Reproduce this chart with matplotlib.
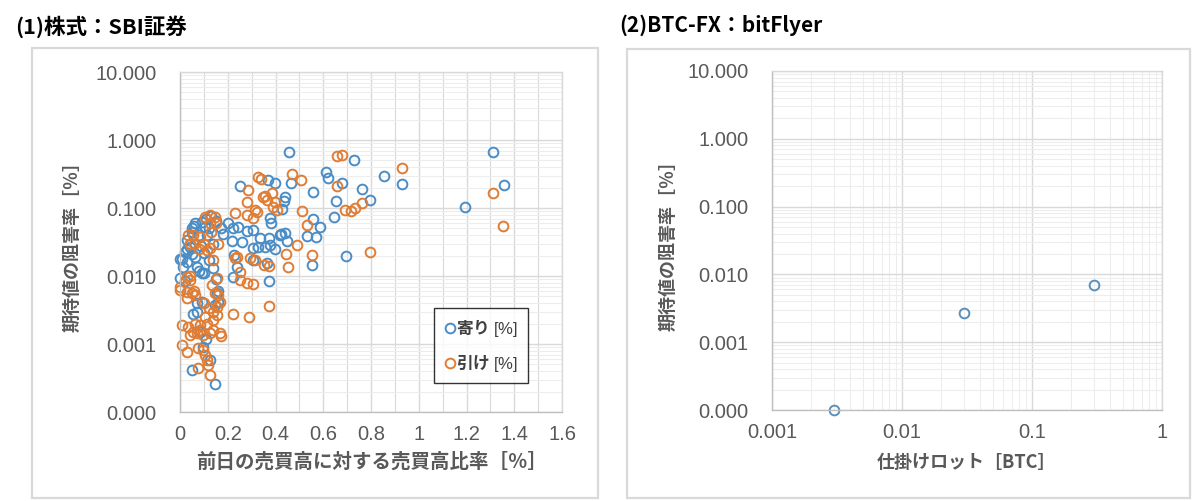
import numpy as np
import matplotlib
matplotlib.use("Agg")
import matplotlib.pyplot as plt
from matplotlib.patches import Rectangle
from matplotlib.ticker import FixedLocator, FuncFormatter, NullFormatter

plt.rcParams['font.family'] = ['Liberation Sans', 'Noto Sans CJK JP', 'DejaVu Sans']
plt.rcParams['mathtext.fontset'] = 'custom'
plt.rcParams['mathtext.rm'] = 'Liberation Sans'
JP = ['Noto Sans CJK JP', 'DejaVu Sans']

# (1) stocks: ratio to previous day volume [%] vs hindrance rate [%]
open_x = [0.456, 1.31, 0.727, 0.853, 0.611, 0.619, 0.677, 0.762, 0.557, 0.797,
          0.652, 0.644, 0.251, 0.367, 0.398, 0.465, 0.44, 0.437, 0.427, 0.558,
          0.586, 0.533, 0.570, 0.423, 0.44, 0.447, 0.373, 0.335, 0.307, 0.325,
          0.356, 0.398, 0.223, 0.244, 0.279, 0.307, 0.216, 0.381, 0.695, 0.551,
          0.373, 0.181, 0.226, 0.377, 0.928, 1.357, 1.194, 0.063, 0.091, 0.105,
          0.049, 0.258, 0.377, 0.419, 0.028, 0.042, 0.021, 0.0, 0.014, 0.07,
          0.091, 0.063, 0.307, 0.363, 0.237, 0.223, 0.112, 0.14, 0.049, 0.147,
          0.126, 0.098, 0.056, 0.07, 0.091, 0.154, 0.161, 0.147, 0.0, 0.02,
          0.01, 0.03, 0.04, 0.06, 0.08, 0.09, 0.10, 0.12, 0.10, 0.14,
          0.15, 0.16, 0.03, 0.05, 0.08, 0.12, 0.15, 0.17, 0.20, 0.13,
          0.05, 0.11, 0.07, 0.11, 0.085]
open_y = [0.66, 0.66, 0.51, 0.30, 0.34, 0.28, 0.235, 0.188, 0.17, 0.131,
          0.127, 0.073, 0.21, 0.26, 0.235, 0.23, 0.147, 0.127, 0.097, 0.068,
          0.053, 0.039, 0.038, 0.0415, 0.0425, 0.033, 0.036, 0.036, 0.0255, 0.0264,
          0.027, 0.0247, 0.051, 0.053, 0.046, 0.0475, 0.0327, 0.0596, 0.0199, 0.0145,
          0.0084, 0.0415, 0.0204, 0.0705, 0.225, 0.218, 0.102, 0.0596, 0.063, 0.053,
          0.050, 0.032, 0.0286, 0.040, 0.034, 0.027, 0.0228, 0.018, 0.0137, 0.0137,
          0.011, 0.019, 0.0172, 0.0153, 0.0137, 0.0098, 0.040, 0.030, 0.00041, 0.00026,
          0.00058, 0.00091, 0.0028, 0.0040, 0.0042, 0.0056, 0.0042, 0.0038, 0.0095, 0.0085,
          0.018, 0.025, 0.030, 0.055, 0.040, 0.028, 0.022, 0.017, 0.011, 0.013,
          0.009, 0.006, 0.016, 0.021, 0.012, 0.050, 0.065, 0.050, 0.060, 0.075,
          0.045, 0.070, 0.003, 0.0012, 0.0015]

close_x = [0.656, 0.678, 0.328, 0.339, 0.468, 0.507, 0.356, 0.363, 0.398, 0.384,
           0.279, 0.656, 0.691, 0.716, 0.733, 0.764, 0.51, 0.23, 0.321, 0.307,
           0.531, 0.489, 0.444, 0.551, 0.796, 0.23, 0.314, 0.353, 0.374, 0.451,
           0.251, 0.251, 0.279, 0.304, 0.374, 0.286, 0.928, 1.31, 1.354, 0.349,
           0.391, 0.405, 0.279, 0.314, 0.105, 0.126, 0.147, 0.126, 0.035, 0.056,
           0.084, 0.112, 0.126, 0.237, 0.293, 0.14, 0.028, 0.042, 0.0, 0.154,
           0.0, 0.028, 0.049, 0.063, 0.028, 0.133, 0.147, 0.161, 0.168, 0.154,
           0.223, 0.289, 0.007, 0.035, 0.063, 0.084, 0.112, 0.14, 0.105, 0.084,
           0.056, 0.042, 0.07, 0.098, 0.126, 0.14, 0.168, 0.154, 0.14, 0.007,
           0.028, 0.077, 0.098, 0.105, 0.112, 0.119, 0.077, 0.126, 0.17, 0.04,
           0.06, 0.08, 0.10, 0.13, 0.16, 0.15, 0.04, 0.06, 0.10, 0.12]
close_y = [0.587, 0.61, 0.29, 0.27, 0.32, 0.26, 0.152, 0.131, 0.124, 0.164,
           0.124, 0.21, 0.0935, 0.090, 0.099, 0.117, 0.090, 0.0835, 0.088, 0.0705,
           0.056, 0.0286, 0.0211, 0.0204, 0.0223, 0.0182, 0.0172, 0.0145, 0.014, 0.0137,
           0.0116, 0.0087, 0.0078, 0.0075, 0.00366, 0.184, 0.387, 0.164, 0.054, 0.147,
           0.104, 0.093, 0.079, 0.0935, 0.0745, 0.079, 0.0745, 0.0596, 0.040, 0.040,
           0.038, 0.0241, 0.0255, 0.019, 0.0182, 0.0172, 0.0098, 0.0087, 0.0070, 0.0092,
           0.0062, 0.0059, 0.0056, 0.0053, 0.0047, 0.0074, 0.0056, 0.0053, 0.0042, 0.0035,
           0.0028, 0.0025, 0.0019, 0.0018, 0.0020, 0.0019, 0.0020, 0.00225, 0.0025, 0.0016,
           0.0015, 0.00135, 0.00145, 0.00135, 0.00145, 0.0016, 0.00145, 0.0027, 0.0030, 0.00097,
           0.00077, 0.00086, 0.00082, 0.00069, 0.00058, 0.00049, 0.00044, 0.00035, 0.0013, 0.030,
           0.030, 0.025, 0.030, 0.045, 0.030, 0.060, 0.010, 0.006, 0.004, 0.0034]

# (2) BTC-FX: order lot [BTC] vs hindrance rate [%]
btc_lot = [0.003, 0.03, 0.3]
btc_rate = [0.0001, 0.0027, 0.007]

y_ticks = [0.0001, 0.001, 0.01, 0.1, 1, 10]
W, H = 1192, 501

blue = '#4A8DC6'
orange = '#E07D35'
grid_major = '#D9D9D9'
grid_minor = '#EDEDED'
text_gray = '#595959'


def fx(px):
    return px / W


def fy(py):
    return 1 - py / H


def style_axes(ax):
    ax.set_yscale('log')
    ax.set_ylim(1e-4, 10)
    ax.yaxis.set_major_locator(FixedLocator(y_ticks))
    ax.yaxis.set_major_formatter(FuncFormatter(lambda v, p: f'{v:.3f}'))
    ax.yaxis.set_minor_formatter(NullFormatter())
    ax.grid(True, which='major', color=grid_major, lw=1.0)
    ax.grid(True, which='minor', color=grid_minor, lw=0.8)
    ax.set_axisbelow(True)
    for s in ax.spines.values():
        s.set_color(grid_major)
        s.set_linewidth(1.0)
    ax.spines['left'].set_color('#BFBFBF')
    ax.spines['bottom'].set_color('#BFBFBF')
    ax.tick_params(which='both', length=0, labelsize=14.5, labelcolor=text_gray)
    ax.tick_params(axis='y', pad=17)
    ax.tick_params(axis='x', pad=9)


fig = plt.figure(figsize=(W / 100, H / 100), dpi=100)
fig.patch.set_facecolor('white')

# outer chart frames
for x0, y0, x1, y1 in [(32, 48, 598, 498), (627, 49, 1190, 498)]:
    fig.patches.append(Rectangle((fx(x0), fy(y1)), fx(x1 - x0), (y1 - y0) / H,
                                 transform=fig.transFigure, fill=False,
                                 edgecolor='#D9D9D9', lw=1.6))

# ---- left chart
ax1 = fig.add_axes([fx(180), fy(412), fx(382), 340 / H])
style_axes(ax1)
ax1.set_xlim(0, 1.6)
ax1.set_xticks(np.arange(0, 1.61, 0.2))
ax1.set_xticks(np.arange(0.1, 1.6, 0.2), minor=True)
ax1.xaxis.set_major_formatter(FuncFormatter(lambda v, p: f'{v:g}'))
ax1.grid(True, which='minor', axis='x', color=grid_major, lw=0.8)

ax1.plot(open_x, open_y, 'o', ls='none', mfc='none', mec=blue, ms=7, mew=1.4,
         label='寄り $\\mathrm{[\\%]}$', clip_on=False)
ax1.plot(close_x, close_y, 'o', ls='none', mfc='none', mec=orange, ms=7, mew=1.4,
         label='引け $\\mathrm{[\\%]}$', clip_on=False)

leg = ax1.legend(loc='upper left', bbox_to_anchor=(fx(434), fy(308)),
                 bbox_transform=fig.transFigure, borderaxespad=0, frameon=True,
                 fancybox=False, handletextpad=0.0, handlelength=0.8,
                 borderpad=0.55, labelspacing=0.8,
                 prop={'family': JP, 'size': 12, 'weight': 'bold'})
leg.get_frame().set_edgecolor('black')
leg.get_frame().set_linewidth(1.0)
for t in leg.get_texts():
    t.set_color('#404040')

fig.text(fx(15), fy(27), '(1)株式：SBI証券', fontsize=15.5, fontweight='bold',
         family=JP, va='center', ha='left')
fig.text(fx(372), fy(462), '前日の売買高に対する売買高比率［％］', fontsize=14,
         fontweight='bold', family=JP, color=text_gray, ha='center', va='center')
fig.text(fx(72), fy(242), '期待値の阻害率［％］', fontsize=13, fontweight='bold',
         family=JP, color=text_gray, ha='center', va='center', rotation=90)

# ---- right chart
ax2 = fig.add_axes([fx(772), fy(410), fx(390), 339 / H])
style_axes(ax2)
ax2.set_xscale('log')
ax2.set_xlim(1e-3, 1)
ax2.xaxis.set_major_locator(FixedLocator([0.001, 0.01, 0.1, 1]))
ax2.xaxis.set_major_formatter(FuncFormatter(lambda v, p: f'{v:g}'))
ax2.xaxis.set_minor_formatter(NullFormatter())

ax2.plot(btc_lot, btc_rate, 'o', ls='none', mfc='none', mec='#5B90BC', ms=7,
         mew=1.4, clip_on=False)

fig.text(fx(619), fy(25), '(2)BTC-FX：bitFlyer', fontsize=15, fontweight='bold',
         family=JP, va='center', ha='left')
fig.text(fx(966), fy(462), '仕掛けロット［BTC］', fontsize=13, fontweight='bold',
         family=JP, color=text_gray, ha='center', va='center')
fig.text(fx(668), fy(241), '期待値の阻害率［％］', fontsize=13, fontweight='bold',
         family=JP, color=text_gray, ha='center', va='center', rotation=90)

fig.savefig('out.png', dpi=100)
